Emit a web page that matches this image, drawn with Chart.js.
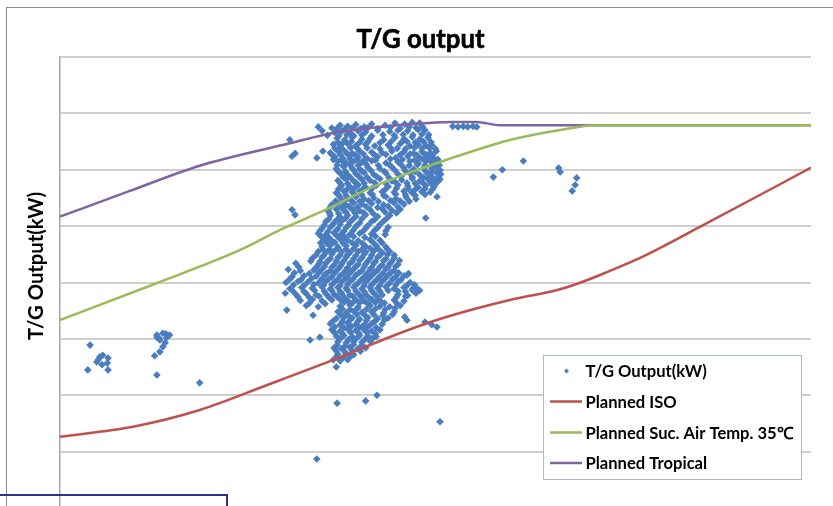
<!DOCTYPE html>
<html><head><meta charset="utf-8">
<script src="https://cdn.jsdelivr.net/npm/chart.js@4.4.0/dist/chart.umd.min.js"></script>
<style>
html,body{margin:0;padding:0;background:#fff;overflow:hidden;width:833px;height:506px;}
#wrap{position:relative;width:833px;height:540px;}
canvas{display:block}
#frag{position:absolute;left:0;top:494px;width:226px;height:40px;border-top:2px solid #2e3192;border-right:2px solid #2e3192;}
</style></head><body>
<div id="wrap"><canvas id="c" width="833" height="540"></canvas><div id="frag"></div></div>
<script>
const chartTitle = "T/G output";
const yAxisTitle = "T/G Output(kW)";
const seriesNames = ["T/G Output(kW)", "Planned ISO", "Planned Suc. Air Temp. 35\u2103", "Planned Tropical"];
const yRange = { min: 0, max: 8000, step: 1000 };
const xRange = { min: 0, max: 100 };

const isoX = [0, 9.7, 18.6, 27.6, 36.4, 45.3, 51.0, 59.9, 66.2, 68.8, 71.9, 77.6, 85.2, 100];
const isoY = [1265, 1442, 1739, 2182, 2626, 3105, 3371, 3690, 3867, 3974, 4133, 4458, 4985, 6037];

const sucX = [0, 13.3, 24.0, 29.3, 35.6, 41.3, 45.7, 51.0, 54.6, 59.9, 66.6, 71.5, 100];
const sucY = [3335, 4009, 4577, 4932, 5304, 5677, 5907, 6156, 6315, 6528, 6706, 6789, 6789];

const tropX = [0, 9.3, 18.6, 30.6, 36.4, 47.0, 52.3, 55.5, 58.6, 100];
const tropY = [5168, 5624, 6072, 6470, 6653, 6812, 6848, 6848, 6789, 6789];

const tgOutput = [
[34.4,6760],[36.2,6740],[37.3,6790],[38.3,6770],[39.4,6800],[40.5,6760],[41.5,6810],[43.3,6790],[44.6,6830],[45.9,6810],[46.9,6840],[47.9,6830],
[52.3,6770],[53.0,6760],[53.7,6770],[54.3,6760],[55.0,6770],[55.5,6760],
[34.9,6690],[36.6,6660],[37.5,6680],[38.6,6650],[39.7,6690],[40.7,6670],[42.3,6700],[43.9,6680],[45.0,6700],[46.3,6690],[47.7,6710],[48.6,6700],
[30.6,6530],[36.9,6560],[37.9,6530],[38.9,6570],[40.2,6540],[41.3,6560],[43.1,6530],[44.6,6570],[45.8,6550],[46.9,6580],[47.9,6540],[49.0,6570],
[36.4,6450],[37.3,6420],[38.3,6460],[39.4,6430],[40.7,6450],[41.9,6420],[43.7,6440],[45.3,6460],[46.6,6420],[47.7,6450],[48.7,6430],[49.5,6440],
[31.3,6290],[35.0,6330],[36.0,6300],[37.0,6330],[38.1,6310],[38.9,6290],[39.9,6330],[41.5,6310],[42.9,6300],[44.2,6330],[45.8,6320],[47.1,6290],[48.2,6320],[49.3,6300],[50.1,6330],
[30.9,6240],[34.2,6210],[36.6,6230],[37.7,6200],[38.6,6240],[39.7,6220],[40.9,6200],[42.3,6230],[44.7,6210],[46.3,6240],[47.9,6210],[49.0,6230],[49.8,6200],
[37.0,6150],[38.1,6120],[39.1,6150],[40.2,6130],[41.5,6160],[43.4,6120],[45.0,6140],[46.6,6150],[47.7,6120],[48.7,6150],[49.5,6130],[50.3,6150],
[36.8,6020],[37.8,6050],[38.9,6030],[39.9,6010],[41.0,6040],[42.6,6020],[44.2,6050],[45.8,6030],[47.1,6010],[48.5,6040],[49.5,6020],[50.2,6050],
[37.3,5940],[38.3,5910],[39.4,5930],[40.5,5950],[41.8,5910],[43.4,5940],[45.0,5920],[46.6,5940],[47.9,5910],[49.0,5930],[50.1,5950],[50.7,5920],
[37.0,5810],[38.1,5830],[39.1,5800],[40.2,5830],[41.3,5810],[42.6,5840],[44.2,5800],[45.5,5820],[46.9,5840],[47.9,5800],[49.0,5830],[49.9,5810],[50.6,5830],
[37.5,5720],[38.6,5700],[39.7,5730],[40.7,5690],[42.1,5720],[43.7,5700],[45.0,5730],[46.3,5710],[47.7,5690],[48.7,5720],[49.8,5700],
[36.8,5590],[37.8,5620],[38.9,5600],[39.9,5620],[41.3,5590],[42.9,5610],[44.5,5600],[45.8,5620],[46.9,5590],[48.2,5610],[49.3,5600],[50.2,5520],
[37.3,5510],[38.3,5490],[39.4,5520],[40.5,5480],[41.8,5500],[43.4,5520],[44.7,5490],[46.1,5510],[47.4,5480],
[36.2,5380],[37.0,5400],[38.1,5370],[39.1,5410],[40.2,5390],[41.5,5400],[43.1,5380],[44.5,5410],[45.8,5390],
[30.9,5290],[35.7,5270],[36.8,5300],[37.8,5280],[38.9,5300],[39.9,5270],[41.3,5290],[42.9,5310],[44.2,5280],[45.3,5300],
[31.3,5200],[36.0,5190],[37.3,5160],[38.3,5190],[39.4,5170],[40.7,5200],[42.3,5170],[43.9,5190],[48.7,5145],
[35.4,5080],[36.5,5060],[37.5,5090],[38.6,5070],[39.9,5060],[41.5,5080],[43.1,5090],
[34.9,4960],[36.0,4980],[37.0,4950],[38.1,4970],[39.4,4990],[40.7,4960],[42.3,4970],[43.7,4980],
[34.4,4870],[35.4,4850],[36.5,4880],[37.5,4860],[38.6,4850],[39.9,4870],[41.5,4860],[43.3,4850],
[35.2,4760],[36.2,4740],[37.3,4770],[38.3,4750],[39.7,4740],[41.3,4760],[42.6,4750],
[34.9,4640],[36.0,4660],[37.0,4630],[38.1,4650],[39.4,4660],[40.7,4640],[42.1,4650],[43.4,4630],
[34.4,4550],[35.4,4530],[36.5,4560],[37.5,4540],[38.6,4530],[39.7,4550],[40.7,4540],[41.8,4560],[42.9,4530],[43.9,4550],
[33.6,4430],[34.9,4450],[36.0,4420],[37.0,4440],[38.1,4450],[39.1,4420],[40.2,4440],[41.3,4430],[42.3,4450],[43.4,4420],[44.5,4440],
[31.4,4340],[34.4,4320],[35.4,4340],[36.5,4310],[37.5,4330],[38.6,4340],[39.7,4320],[40.7,4330],[41.8,4340],[42.9,4310],[43.9,4330],[45.0,4320],
[30.4,4230],[32.0,4210],[33.8,4220],[34.9,4240],[36.0,4210],[37.0,4230],[38.1,4220],[39.1,4240],[40.2,4210],[41.3,4230],[42.3,4220],[43.4,4240],[44.5,4210],[46.2,4130],
[30.9,4100],[32.5,4120],[34.1,4110],[35.2,4130],[36.2,4100],[37.3,4120],[38.3,4110],[39.4,4130],[40.5,4100],[41.5,4120],[42.6,4110],[43.7,4130],[44.7,4100],[45.8,4120],
[30.1,4000],[31.7,4020],[33.0,4010],[34.4,3990],[35.4,4020],[36.5,4000],[37.5,4010],[38.6,4020],[39.7,3990],[40.7,4010],[41.8,4000],[42.9,4020],[43.9,3990],[45.0,4010],[46.6,4000],[47.5,3900],
[30.6,3890],[32.2,3910],[33.6,3900],[34.9,3920],[36.0,3890],[37.0,3910],[38.1,3900],[39.1,3920],[40.2,3890],[41.3,3910],[42.3,3900],[43.4,3920],[44.5,3890],[45.8,3910],[46.9,3880],[47.9,3860],
[30.0,3810],[31.4,3790],[32.8,3800],[34.1,3780],[35.4,3800],[36.5,3790],[37.5,3810],[38.6,3780],[39.7,3800],[40.7,3790],[41.8,3810],[42.9,3780],[45.0,3790],[46.3,3770],[47.4,3810],
[32.0,3680],[33.6,3700],[34.9,3670],[36.2,3690],[37.3,3700],[38.3,3680],[39.4,3690],[40.5,3670],[41.5,3700],[42.6,3680],[44.5,3690],[45.8,3670],
[32.8,3590],[34.4,3570],[37.3,3580],[38.6,3600],[39.7,3570],[41.3,3590],[42.6,3580],[43.9,3570],[45.3,3590],
[30.2,3510],[33.7,3420],[37.0,3480],[38.1,3460],[39.1,3490],[40.2,3470],[41.5,3480],[43.1,3460],[44.5,3480],
[36.8,3360],[37.8,3380],[38.9,3370],[39.9,3350],[41.0,3380],[42.3,3360],[43.7,3370],[45.9,3390],[46.2,3330],
[36.0,3270],[37.3,3250],[38.3,3280],[39.4,3260],[40.5,3250],[41.5,3270],[42.9,3260],[48.6,3300],[49.5,3250],[50.2,3210],
[36.2,3160],[37.3,3140],[38.3,3170],[39.4,3150],[40.5,3160],[41.5,3140],[42.6,3160],
[33.3,2980],[34.6,3030],[36.8,3050],[37.8,3060],[38.9,3040],[39.9,3060],[41.0,3050],[42.1,3040],
[37.0,2950],[38.1,2930],[39.1,2950],[40.2,2940],[41.3,2960],
[36.5,2840],[37.5,2830],[38.6,2850],[39.7,2830],[40.7,2840],
[37.0,2730],[38.1,2740],[39.1,2720],
[36.4,2630],[37.3,2610],[38.3,2630],
[36.8,2500],
[36.9,6730],[37.9,6720],[38.9,6740],[40.0,6725],[41.0,6745],[42.3,6730],[44.0,6750],[45.3,6735],[46.5,6760],[47.4,6745],[48.3,6760],
[35.6,6610],[37.1,6600],[38.2,6620],[39.1,6605],[40.2,6615],[41.5,6600],[43.0,6620],[44.5,6610],[45.7,6625],[47.0,6615],[48.2,6630],[49.1,6620],
[37.0,6490],[37.7,6480],[38.8,6500],[39.9,6485],[41.0,6495],[42.6,6480],[44.1,6500],[45.5,6490],[46.2,6500],[47.3,6485],[48.4,6500],[49.4,6490],
[36.6,6380],[37.6,6370],[38.7,6390],[39.6,6375],[40.9,6385],[42.6,6370],[44.0,6390],[44.9,6380],[46.0,6370],[47.2,6390],[48.2,6375],[49.2,6385],[50.0,6370],
[36.2,6270],[37.4,6260],[38.3,6275],[39.3,6265],[40.4,6280],[41.9,6260],[43.4,6270],[45.3,6265],[46.6,6280],[47.5,6260],[48.7,6270],[49.6,6260],
[36.4,6180],[37.5,6170],[38.6,6190],[39.6,6175],[40.6,6185],[42.0,6170],[44.0,6190],[45.6,6180],[47.2,6170],[48.3,6190],[49.3,6175],[50.3,6185],
[36.9,6085],[37.7,6075],[38.6,6090],[39.7,6080],[40.8,6095],[42.4,6075],[43.9,6085],[45.4,6090],[46.5,6075],[47.6,6090],[48.6,6080],[49.6,6095],[50.5,6080],
[37.0,5980],[38.0,5970],[39.1,5990],[40.2,5975],[41.4,5985],[43.2,5970],[44.6,5990],[46.0,5980],[47.3,5970],[48.6,5985],[49.6,5975],[50.6,5990],
[37.7,5870],[38.7,5860],[39.8,5880],[40.9,5865],[42.2,5875],[43.8,5860],[45.4,5880],[46.9,5870],[48.4,5865],[49.5,5880],[50.4,5870],
[37.3,5765],[38.3,5755],[39.4,5775],[40.5,5760],[41.9,5770],[43.4,5755],[44.7,5775],[46.2,5765],[47.3,5755],[48.3,5770],[49.4,5760],[50.2,5775],
[37.1,5660],[38.2,5650],[39.2,5670],[40.3,5655],[41.5,5665],[43.3,5650],[44.8,5670],[46.4,5660],[47.3,5650],[48.6,5665],[49.6,5655],
[37.1,5555],[38.1,5545],[39.2,5565],[40.2,5550],[41.6,5560],[43.1,5545],[44.7,5565],[46.0,5555],[47.3,5545],[48.6,5560],
[36.7,5445],[37.7,5435],[38.8,5455],[39.9,5440],[41.1,5450],[42.4,5435],[44.0,5455],[45.3,5445],[46.5,5440],
[36.0,5340],[37.5,5330],[38.5,5350],[39.6,5335],[40.8,5345],[42.3,5330],[43.7,5350],[45.0,5340],
[35.9,5235],[37.1,5225],[38.1,5245],[39.3,5230],[40.4,5240],[41.7,5225],[43.3,5245],[44.8,5235],
[35.8,5125],[36.9,5115],[38.0,5135],[39.0,5120],[40.2,5130],[41.9,5115],[43.5,5135],
[35.2,5020],[36.2,5010],[37.3,5030],[38.4,5015],[39.6,5025],[41.0,5010],[42.6,5030],
[34.6,4915],[35.7,4905],[36.8,4925],[37.8,4910],[39.0,4920],[40.3,4905],[41.9,4925],[43.4,4915],
[34.8,4810],[35.8,4800],[36.9,4820],[37.9,4805],[39.1,4815],[40.6,4800],[42.0,4820],
[34.7,4700],[35.6,4690],[36.6,4710],[37.7,4695],[38.9,4705],[40.3,4690],[41.7,4710],[42.9,4700],
[35.0,4595],[35.9,4585],[37.0,4605],[38.1,4590],[39.1,4600],[40.2,4585],[41.3,4605],[42.4,4595],[43.6,4590],
[34.1,4490],[35.1,4480],[36.2,4500],[37.3,4485],[38.3,4495],[39.4,4480],[40.5,4500],[41.5,4490],[42.6,4480],[43.6,4495],[44.5,4485],
[33.4,4380],[34.6,4370],[35.7,4390],[36.8,4375],[37.8,4385],[38.9,4370],[39.9,4390],[41.0,4380],[42.0,4370],[43.1,4385],[44.2,4375],[45.2,4390],
[31.8,4275],[34.1,4265],[35.2,4285],[36.2,4270],[37.3,4280],[38.3,4265],[39.4,4285],[40.5,4275],[41.5,4265],[42.6,4280],[43.7,4270],[44.7,4285],
[31.2,4170],[33.2,4160],[34.5,4180],[35.5,4165],[36.6,4175],[37.7,4160],[38.7,4180],[39.8,4170],[40.9,4160],[41.9,4175],[43.0,4165],[44.1,4180],[45.1,4170],[46.4,4160],
[30.6,4060],[32.1,4050],[33.5,4070],[34.8,4055],[35.8,4065],[36.9,4050],[38.0,4070],[39.0,4060],[40.1,4050],[41.1,4065],[42.2,4055],[43.3,4070],[44.3,4060],[45.4,4050],
[31.1,3955],[32.5,3945],[33.8,3965],[35.1,3950],[36.2,3960],[37.3,3945],[38.3,3965],[39.4,3955],[40.5,3945],[41.5,3960],[42.6,3950],[43.7,3965],[44.7,3955],[46.2,3945],[47.2,3960],
[31.0,3850],[32.5,3840],[33.9,3860],[35.2,3845],[36.2,3855],[37.3,3840],[38.3,3860],[39.4,3850],[40.5,3840],[41.5,3855],[42.6,3845],[43.7,3860],[45.0,3850],[46.0,3840],[47.0,3855],
[31.7,3745],[33.2,3735],[34.5,3755],[35.8,3740],[36.9,3750],[37.9,3735],[39.0,3755],[40.1,3745],[41.1,3735],[42.2,3750],[44.8,3740],[46.0,3755],
[33.2,3635],[35.3,3625],[37.8,3645],[38.9,3630],[39.9,3640],[41.0,3625],[42.0,3645],[43.2,3635],[44.9,3625],
[37.6,3530],[38.6,3520],[39.6,3540],[40.8,3525],[42.0,3535],[43.3,3520],[44.6,3540],
[37.4,3425],[38.4,3415],[39.5,3435],[40.6,3420],[41.8,3430],[43.0,3415],[44.3,3435],
[36.4,3320],[37.6,3310],[38.6,3330],[39.7,3315],[40.8,3325],[41.9,3310],[43.2,3330],
[36.6,3210],[37.8,3200],[38.8,3220],[39.9,3205],[41.0,3215],[42.1,3200],
[36.6,3105],[37.6,3095],[38.7,3115],[39.8,3100],[40.9,3110],[42.0,3095],
[37.3,3000],[38.4,2990],[39.5,3010],[40.6,2995],[41.6,3005],
[36.9,2890],[38.0,2880],[39.1,2900],[40.2,2885],
[36.8,2785],[37.9,2775],[38.9,2795],[40.0,2780],
[36.8,2680],[37.7,2670],[38.7,2690],
[34.2,870],[36.9,1860],[40.7,1900],[42.2,2000],[50.6,1530],[18.6,2220],[12.9,2360],
[4.0,2890],[3.7,2450],[5.3,2680],[4.9,2590],[5.6,2540],[6.4,2660],[6.4,2450],[5.7,2710],[5.1,2630],[6.3,2570],
[12.9,3070],[13.7,3100],[14.6,3070],[13.3,2980],[14.2,3020],[13.7,2860],[13.3,2770],[12.6,2700],[12.9,3030],[14.0,2930],[14.1,3090],[13.2,3010],
[57.7,5870],[58.9,6000],[61.7,6155],[66.4,6030],[66.6,5960],[68.8,5855],[68.6,5730],[68.2,5625]
];

const COLORS = { scatter: '#4a7dc0', iso: '#c0504d', suc: '#9bbb59', trop: '#8064a2' };
const FONT = 'Lato, "Open Sans", sans-serif';

function pairs(xs, ys) { return xs.map((x, i) => ({ x: x, y: ys[i] })); }
function fitSize(ctx, text, width) {
  ctx.font = 'bold 100px ' + FONT;
  return 100 * width / ctx.measureText(text).width;
}

const decorPlugin = {
  id: 'decor',
  beforeDraw(chart) {
    const ctx = chart.ctx;
    ctx.save();
    ctx.strokeStyle = '#8c8c8c';
    ctx.lineWidth = 1;
    ctx.strokeRect(6.5, 7.5, 900, 600);
    ctx.restore();
  },
  afterDraw(chart) {
    const ctx = chart.ctx;
    ctx.save();
    let s = fitSize(ctx, chartTitle, 128);
    ctx.font = 'bold ' + s + 'px ' + FONT;
    ctx.fillStyle = '#000';
    ctx.textAlign = 'center';
    ctx.textBaseline = 'alphabetic';
    ctx.fillText(chartTitle, 420.5, 48);
    ctx.lineWidth = 0.6; ctx.strokeStyle = '#000';
    ctx.strokeText(chartTitle, 420.5, 48);
    s = fitSize(ctx, yAxisTitle, 148);
    ctx.font = 'bold ' + s + 'px ' + FONT;
    ctx.translate(43, 266);
    ctx.rotate(-Math.PI / 2);
    ctx.fillText(yAxisTitle, 0, 0);
    ctx.restore();

    ctx.save();
    const bx = 543.5, by = 355.5, bw = 258, bh = 124;
    ctx.fillStyle = '#fff';
    ctx.fillRect(bx, by, bw, bh);
    ctx.strokeStyle = '#a9b8cf';
    ctx.lineWidth = 1;
    ctx.strokeRect(bx, by, bw, bh);
    const ls = fitSize(ctx, seriesNames[2], 208);
    ctx.font = 'bold ' + ls + 'px ' + FONT;
    ctx.textAlign = 'left';
    ctx.textBaseline = 'alphabetic';
    const rowsY = [371, 401.5, 432.5, 463];
    const cols = [COLORS.scatter, COLORS.iso, COLORS.suc, COLORS.trop];
    seriesNames.forEach((name, i) => {
      const yy = rowsY[i];
      if (i === 0) {
        ctx.fillStyle = cols[0];
        ctx.beginPath();
        ctx.moveTo(566.5, yy - 2.5); ctx.lineTo(569, yy); ctx.lineTo(566.5, yy + 2.5); ctx.lineTo(564, yy);
        ctx.closePath(); ctx.fill();
      } else {
        ctx.strokeStyle = cols[i];
        ctx.lineWidth = 2.5;
        ctx.beginPath(); ctx.moveTo(550, yy); ctx.lineTo(582, yy); ctx.stroke();
      }
      ctx.fillStyle = '#000';
      ctx.fillText(name, 585.5, yy + 6);
    });
    ctx.restore();
  }
};

const lineDs = (label, data, color) => ({
  type: 'scatter', label, data, showLine: true, borderColor: color, backgroundColor: color,
  borderWidth: 2.5, pointRadius: 0, cubicInterpolationMode: 'monotone', order: 1
});

new Chart(document.getElementById('c'), {
  type: 'scatter',
  data: {
    datasets: [
      { label: seriesNames[0], data: tgOutput.map(p => ({ x: p[0], y: p[1] })), pointStyle: 'rectRot',
        pointRadius: 3.8, pointBorderWidth: 0, backgroundColor: COLORS.scatter, borderColor: COLORS.scatter, order: 10 },
      lineDs(seriesNames[1], pairs(isoX, isoY), COLORS.iso),
      lineDs(seriesNames[2], pairs(sucX, sucY), COLORS.suc),
      lineDs(seriesNames[3], pairs(tropX, tropY), COLORS.trop)
    ]
  },
  options: {
    responsive: false, animation: false, devicePixelRatio: 1,
    layout: { padding: { left: 60, top: 57, right: 22, bottom: 32 } },
    plugins: { legend: { display: false }, title: { display: false }, tooltip: { enabled: false } },
    scales: {
      x: { type: 'linear', display: false, min: xRange.min, max: xRange.max },
      y: {
        type: 'linear', min: yRange.min, max: yRange.max,
        ticks: { display: false, stepSize: yRange.step },
        grid: { color: '#cfcfcf', lineWidth: 2, drawTicks: false },
        border: { display: true, color: '#a6a6a6', width: 1.5 },
        afterFit(s) { s.width = 0; }
      }
    }
  },
  plugins: [decorPlugin]
});
</script>
</body></html>
